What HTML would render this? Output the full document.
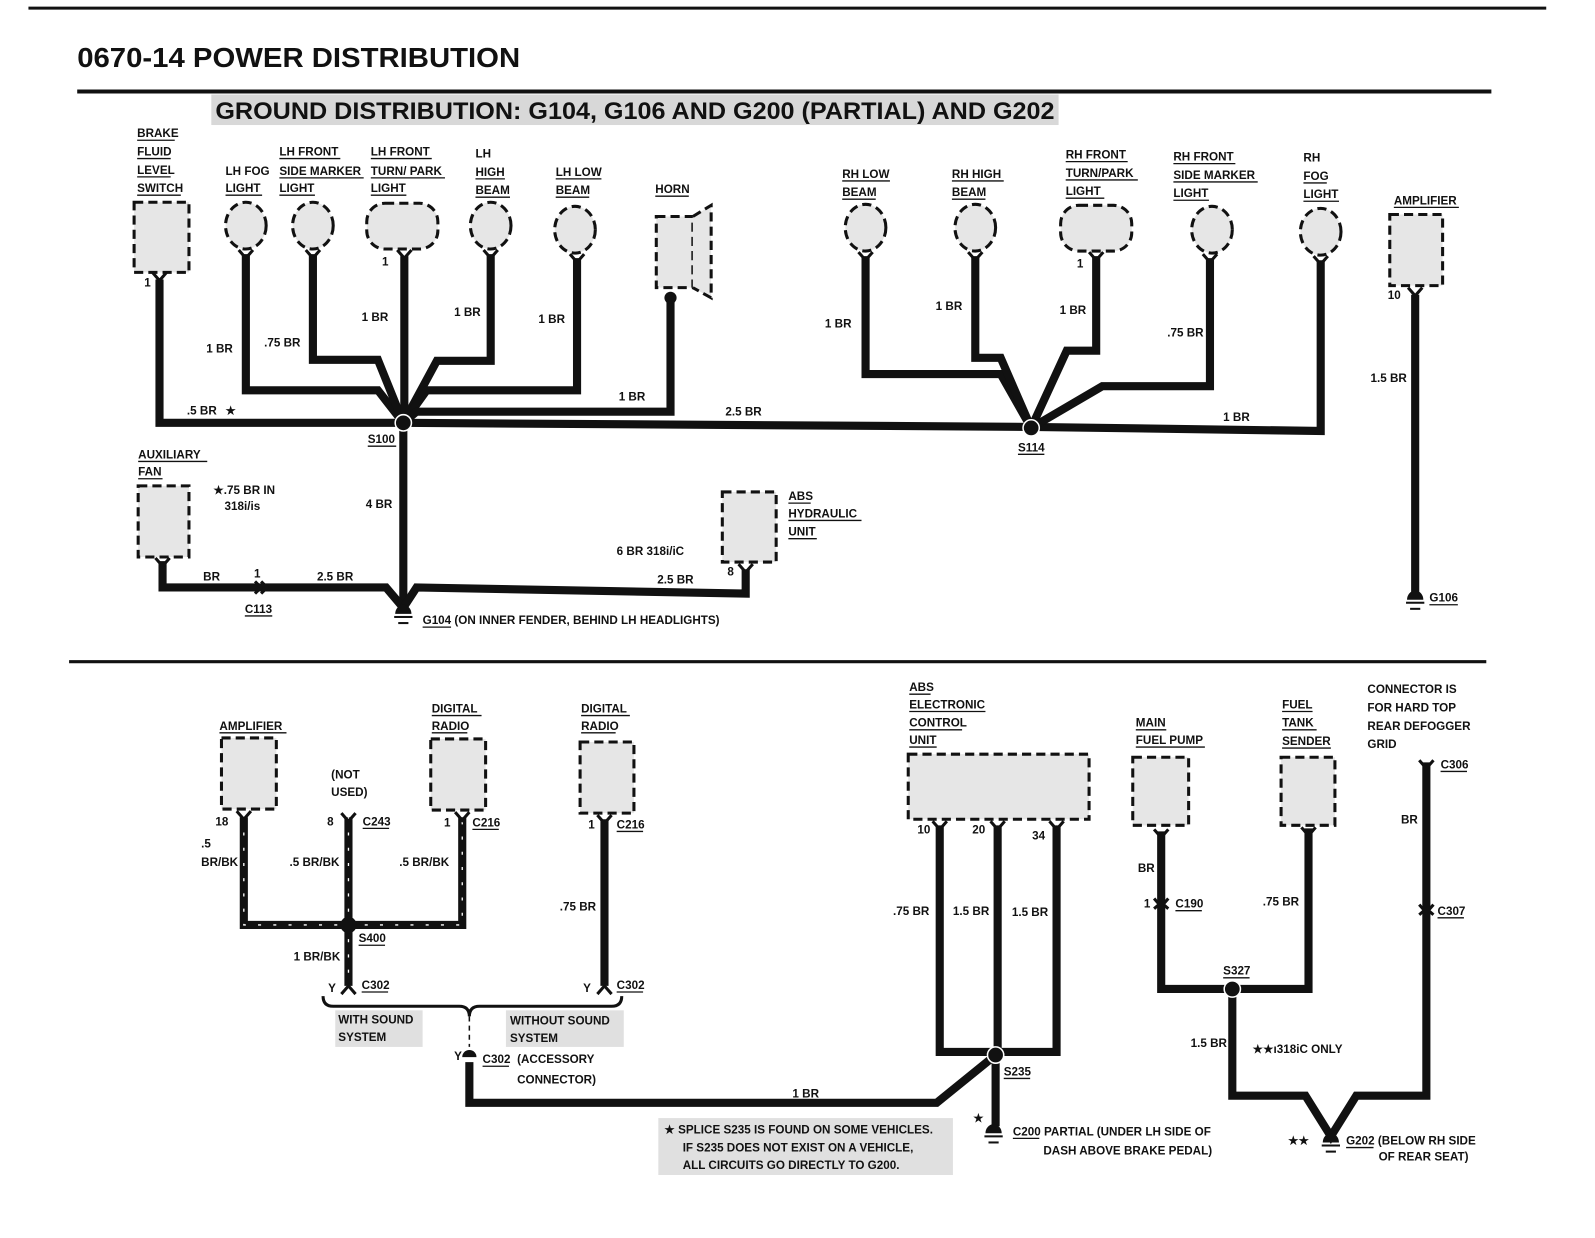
<!DOCTYPE html>
<html><head><meta charset="utf-8"><style>
html,body{margin:0;padding:0;background:#fff}
svg{display:block}
text{font-family:"Liberation Sans",sans-serif;font-weight:bold;fill:#111}
.l{font-size:11.5px}
.w{fill:none;stroke:#111;stroke-width:8;stroke-linejoin:miter}
.b{fill:#e6e6e6;stroke:#111;stroke-width:3;stroke-dasharray:9 5}
.s{fill:none;stroke:#fff;stroke-width:1.3;stroke-dasharray:3 12}
</style></head><body>
<svg width="1595" height="1238" viewBox="0 0 1570 1218" preserveAspectRatio="none" xmlns="http://www.w3.org/2000/svg">
<rect width="1570" height="1218" fill="#fff"/>
<line x1="28" y1="8" x2="1522" y2="8" stroke="#111" stroke-width="3"/>
<text x="76" y="66" style="font-size:27px" textLength="436" lengthAdjust="spacingAndGlyphs">0670-14  POWER DISTRIBUTION</text>
<line x1="76" y1="90" x2="1468" y2="90" stroke="#111" stroke-width="4"/>
<rect x="208" y="93" width="834" height="30" fill="#d8d8d8"/>
<text x="212" y="117" style="font-size:24px" textLength="826" lengthAdjust="spacingAndGlyphs">GROUND DISTRIBUTION: G104, G106 AND G200 (PARTIAL) AND G202</text>

<!-- top components -->
<rect class="b" x="132" y="199" width="54" height="69"/>
<ellipse class="b" cx="242" cy="222" rx="20" ry="23"/>
<ellipse class="b" cx="308" cy="222" rx="20" ry="23"/>
<rect class="b" x="361" y="200" width="70" height="45" rx="18"/>
<ellipse class="b" cx="483" cy="222" rx="20" ry="23"/>
<ellipse class="b" cx="566" cy="226" rx="20" ry="23"/>
<rect class="b" x="646" y="213" width="36" height="70"/>
<path d="M682 213 L700 202 L700 293 L682 283" fill="#e6e6e6" stroke="#111" stroke-width="3" stroke-dasharray="9 5"/>
<ellipse class="b" cx="852" cy="224" rx="20" ry="23"/>
<ellipse class="b" cx="960" cy="224" rx="20" ry="23"/>
<rect class="b" x="1044" y="202" width="70" height="45" rx="18"/>
<ellipse class="b" cx="1193" cy="226" rx="20" ry="23"/>
<ellipse class="b" cx="1300" cy="228" rx="20" ry="23"/>
<rect class="b" x="1368" y="211" width="52" height="70"/>

<!-- top wires -->
<g class="w">
<path d="M157 275 V416 H397"/>
<path d="M242 250 V384 H372 L397 416"/>
<path d="M308 250 V354 H372 L397 416"/>
<path d="M398 252 V416"/>
<path d="M483 250 V355 H430 L397 416"/>
<path d="M568 254 V384 H420 L397 416"/>
<path d="M660 293 V405 H410 L397 416"/>
<path d="M397 416 L1015 420 L1300 424 V256"/>
<path d="M852 252 V368 H985 L1015 421"/>
<path d="M960 252 V352 H985 L1015 421"/>
<path d="M1079 252 V345 H1050 L1015 421"/>
<path d="M1191 254 V380 H1085 L1015 421"/>
<path d="M1393 290 V585"/>
<path d="M397 416 V598"/>
<path d="M160 552 V578 H380 L397 598"/>
<path d="M734 560 V584 L410 578 L397 598"/>
</g>
<circle cx="397" cy="416" r="8" fill="#111" stroke="#fff" stroke-width="1.5"/>
<circle cx="1015" cy="421" r="8" fill="#111" stroke="#fff" stroke-width="1.5"/>
<circle cx="660" cy="293" r="6" fill="#111"/>
<path d="M251 572 l6 6 -6 6 M257 572 l6 6 -6 6" stroke="#111" stroke-width="3" fill="none"/>
<rect class="b" x="136" y="478" width="50" height="70"/>
<rect class="b" x="711" y="484" width="53" height="69"/>

<!-- connector Ys -->
<g stroke="#111" stroke-width="3" fill="none">
<path d="M150 268 l7 8 7 -8"/><path d="M235 246 l7 8 7 -8"/><path d="M301 246 l7 8 7 -8"/><path d="M391 246 l7 8 7 -8"/><path d="M476 246 l7 8 7 -8"/><path d="M561 250 l7 8 7 -8"/>
<path d="M845 248 l7 8 7 -8"/><path d="M953 248 l7 8 7 -8"/><path d="M1072 248 l7 8 7 -8"/><path d="M1184 250 l7 8 7 -8"/><path d="M1293 252 l7 8 7 -8"/><path d="M1386 283 l7 8 7 -8"/>
<path d="M153 549 l7 8 7 -8"/><path d="M727 555 l7 8 7 -8"/>
</g>

<!-- grounds top -->
<g fill="#111">
<path d="M389 604 a8 9 0 0 1 16 0 z"/><rect x="388" y="606" width="18" height="2"/><rect x="392" y="612" width="10" height="2"/>
<path d="M1385 590 a8 9 0 0 1 16 0 z"/><rect x="1384" y="592" width="18" height="2"/><rect x="1388" y="598" width="10" height="2"/>
</g>

<!-- top labels -->
<g class="l">
<text x="135" y="135">BRAKE</text><text x="135" y="153">FLUID</text><text x="135" y="171">LEVEL</text><text x="135" y="189">SWITCH</text>
<text x="222" y="172">LH FOG</text><text x="222" y="189">LIGHT</text>
<text x="275" y="153">LH FRONT</text><text x="275" y="172">SIDE MARKER</text><text x="275" y="189">LIGHT</text>
<text x="365" y="153">LH FRONT</text><text x="365" y="172">TURN/ PARK</text><text x="365" y="189">LIGHT</text>
<text x="468" y="155">LH</text><text x="468" y="173">HIGH</text><text x="468" y="191">BEAM</text>
<text x="547" y="173">LH LOW</text><text x="547" y="191">BEAM</text>
<text x="645" y="190">HORN</text>
<text x="829" y="175">RH LOW</text><text x="829" y="193">BEAM</text>
<text x="937" y="175">RH HIGH</text><text x="937" y="193">BEAM</text>
<text x="1049" y="156">RH FRONT</text><text x="1049" y="174">TURN/PARK</text><text x="1049" y="192">LIGHT</text>
<text x="1155" y="158">RH FRONT</text><text x="1155" y="176">SIDE MARKER</text><text x="1155" y="194">LIGHT</text>
<text x="1283" y="159">RH</text><text x="1283" y="177">FOG</text><text x="1283" y="195">LIGHT</text>
<text x="1372" y="201">AMPLIFIER</text>
<text x="142" y="282">1</text><text x="376" y="261">1</text><text x="1060" y="263">1</text><text x="1366" y="294">10</text>
<text x="203" y="347">1 BR</text><text x="260" y="341">.75 BR</text><text x="356" y="316">1 BR</text><text x="447" y="311">1 BR</text><text x="530" y="318">1 BR</text>
<text x="609" y="394">1 BR</text><text x="184" y="408">.5 BR</text><text x="222" y="408">★</text><text x="714" y="409">2.5 BR</text>
<text x="812" y="322">1 BR</text><text x="921" y="305">1 BR</text><text x="1043" y="309">1 BR</text><text x="1149" y="331">.75 BR</text><text x="1204" y="414">1 BR</text>
<text x="1349" y="376">1.5 BR</text>
<text x="362" y="436">S100</text><text x="1002" y="444">S114</text>
<text x="136" y="451">AUXILIARY</text><text x="136" y="468">FAN</text>
<text x="210" y="486">★.75 BR IN</text><text x="221" y="502">318i/is</text>
<text x="360" y="500">4 BR</text>
<text x="776" y="492">ABS</text><text x="776" y="509">HYDRAULIC</text><text x="776" y="527">UNIT</text>
<text x="607" y="546">6 BR 318i/iC</text><text x="647" y="574">2.5 BR</text><text x="716" y="566">8</text>
<text x="200" y="571">BR</text><text x="250" y="568">1</text><text x="312" y="571">2.5 BR</text>
<text x="241" y="603">C113</text>
<text x="416" y="614">G104 (ON INNER FENDER, BEHIND LH HEADLIGHTS)</text>
<text x="1407" y="592">G106</text>
</g>
<g stroke="#111" stroke-width="1.3">
<line x1="135" y1="138" x2="172" y2="138"/><line x1="135" y1="156" x2="168" y2="156"/><line x1="135" y1="174" x2="168" y2="174"/><line x1="135" y1="192" x2="178" y2="192"/>
<line x1="222" y1="192" x2="258" y2="192"/><line x1="275" y1="156" x2="335" y2="156"/><line x1="275" y1="175" x2="358" y2="175"/><line x1="275" y1="192" x2="310" y2="192"/>
<line x1="365" y1="156" x2="425" y2="156"/><line x1="365" y1="175" x2="438" y2="175"/><line x1="365" y1="192" x2="400" y2="192"/>
<line x1="468" y1="176" x2="497" y2="176"/><line x1="468" y1="194" x2="502" y2="194"/><line x1="547" y1="176" x2="592" y2="176"/><line x1="547" y1="194" x2="580" y2="194"/><line x1="645" y1="193" x2="678" y2="193"/>
<line x1="829" y1="178" x2="876" y2="178"/><line x1="829" y1="196" x2="862" y2="196"/><line x1="937" y1="178" x2="988" y2="178"/><line x1="937" y1="196" x2="970" y2="196"/>
<line x1="1049" y1="159" x2="1110" y2="159"/><line x1="1049" y1="177" x2="1120" y2="177"/><line x1="1049" y1="195" x2="1087" y2="195"/>
<line x1="1155" y1="161" x2="1216" y2="161"/><line x1="1155" y1="179" x2="1238" y2="179"/><line x1="1155" y1="197" x2="1190" y2="197"/>
<line x1="1283" y1="180" x2="1306" y2="180"/><line x1="1283" y1="198" x2="1318" y2="198"/><line x1="1372" y1="204" x2="1436" y2="204"/>
<line x1="362" y1="439" x2="390" y2="439"/><line x1="1002" y1="447" x2="1028" y2="447"/><line x1="136" y1="454" x2="204" y2="454"/><line x1="136" y1="471" x2="160" y2="471"/>
<line x1="776" y1="495" x2="798" y2="495"/><line x1="776" y1="512" x2="848" y2="512"/><line x1="776" y1="530" x2="804" y2="530"/>
<line x1="241" y1="606" x2="268" y2="606"/><line x1="416" y1="617" x2="444" y2="617"/><line x1="1407" y1="595" x2="1435" y2="595"/>
</g>

<!-- bottom -->
<line x1="68" y1="651" x2="1463" y2="651" stroke="#111" stroke-width="3"/>
<rect class="b" x="218" y="726" width="54" height="70"/>
<rect class="b" x="424" y="727" width="54" height="70"/>
<rect class="b" x="571" y="730" width="53" height="70"/>
<rect class="b" x="894" y="742" width="178" height="64"/>
<rect class="b" x="1115" y="745" width="55" height="67"/>
<rect class="b" x="1261" y="745" width="53" height="67"/>
<g class="w">
<path d="M240 804 V910 H455 V804"/>
<path d="M343 804 V970"/>
<path d="M595 806 V970"/>
<path d="M462 1045 V1085 H922 L980 1038"/>
<path d="M925 812 V1035 H1040 V812"/>
<path d="M982 812 V1035"/>
<path d="M980 1038 V1108"/>
<path d="M1143 818 V973 H1288 V815"/>
<path d="M1213 973 V1078 H1285 L1310 1118 L1335 1078 H1404 V750"/>
</g>
<g class="s">
<path d="M240 804 V910 H455 V804"/><path d="M343 804 V970"/>
</g>
<circle cx="343" cy="910" r="8" fill="#111"/>
<circle cx="980" cy="1038" r="8" fill="#111" stroke="#fff" stroke-width="1.5"/>
<circle cx="1213" cy="973" r="8" fill="#111" stroke="#fff" stroke-width="1.5"/>
<g stroke="#111" stroke-width="3" fill="none">
<path d="M233 798 l7 8 7 -8"/><path d="M336 800 l7 8 7 -8"/><path d="M448 799 l7 8 7 -8"/><path d="M588 802 l7 8 7 -8"/>
<path d="M336 978 l7 -8 7 8"/><path d="M588 978 l7 -8 7 8"/>
<path d="M918 808 l7 8 7 -8"/><path d="M975 808 l7 8 7 -8"/><path d="M1033 808 l7 8 7 -8"/>
<path d="M1136 816 l7 8 7 -8"/><path d="M1281 814 l7 8 7 -8"/><path d="M1397 748 l7 8 7 -8"/>
<path d="M1136 884 l7 8 7 -8 M1136 894 l7 -6 7 6"/><path d="M1397 890 l7 8 7 -8 M1397 900 l7 -6 7 6"/>
<path d="M318 980 q0 10 10 10 H452 q10 0 10 10 q0 -10 10 -10 H602 q10 0 10 -10"/>
</g>
<line x1="462" y1="1000" x2="462" y2="1030" stroke="#111" stroke-width="1.5" stroke-dasharray="5 4"/>
<path d="M455 1040 a7 7 0 0 1 14 0 z" fill="#111"/>
<rect x="330" y="994" width="86" height="36" fill="#e0e0e0"/>
<rect x="498" y="994" width="116" height="36" fill="#e0e0e0"/>
<rect x="648" y="1100" width="290" height="56" fill="#e0e0e0"/>
<g fill="#111">
<path d="M970 1115 a8 9 0 0 1 16 0 z"/><rect x="969" y="1117" width="18" height="2"/><rect x="973" y="1123" width="10" height="2"/>
<path d="M1302 1124 a8 9 0 0 1 16 0 z"/><rect x="1301" y="1126" width="18" height="2"/><rect x="1305" y="1132" width="10" height="2"/>
</g>
<g class="l">
<text x="216" y="718">AMPLIFIER</text>
<text x="326" y="766">(NOT</text><text x="326" y="783">USED)</text>
<text x="425" y="701">DIGITAL</text><text x="425" y="718">RADIO</text>
<text x="572" y="701">DIGITAL</text><text x="572" y="718">RADIO</text>
<text x="212" y="812">18</text><text x="322" y="812">8</text><text x="357" y="812">C243</text>
<text x="437" y="813">1</text><text x="465" y="813">C216</text><text x="579" y="815">1</text><text x="607" y="815">C216</text>
<text x="198" y="834">.5</text><text x="198" y="852">BR/BK</text><text x="285" y="852">.5 BR/BK</text><text x="393" y="852">.5 BR/BK</text>
<text x="551" y="896">.75 BR</text>
<text x="353" y="927">S400</text><text x="289" y="945">1 BR/BK</text>
<text x="323" y="976">Y</text><text x="356" y="973">C302</text><text x="574" y="976">Y</text><text x="607" y="973">C302</text>
<text x="333" y="1007">WITH SOUND</text><text x="333" y="1024">SYSTEM</text>
<text x="502" y="1008">WITHOUT SOUND</text><text x="502" y="1025">SYSTEM</text>
<text x="447" y="1043">Y</text><text x="475" y="1046">C302</text><text x="509" y="1046">(ACCESSORY</text><text x="509" y="1066">CONNECTOR)</text>
<text x="780" y="1080">1 BR</text>
<text x="895" y="680">ABS</text><text x="895" y="697">ELECTRONIC</text><text x="895" y="715">CONTROL</text><text x="895" y="732">UNIT</text>
<text x="903" y="820">10</text><text x="957" y="820">20</text><text x="1016" y="826">34</text>
<text x="879" y="900">.75 BR</text><text x="938" y="900">1.5 BR</text><text x="996" y="901">1.5 BR</text>
<text x="988" y="1058">S235</text>
<text x="958" y="1104">★</text>
<text x="997" y="1117">C200 PARTIAL (UNDER LH SIDE OF</text><text x="1027" y="1136">DASH ABOVE BRAKE PEDAL)</text>
<text x="654" y="1115">★  SPLICE S235 IS FOUND ON SOME VEHICLES.</text>
<text x="672" y="1133">IF S235 DOES NOT EXIST ON A VEHICLE,</text>
<text x="672" y="1150">ALL CIRCUITS GO DIRECTLY TO G200.</text>
<text x="1118" y="715">MAIN</text><text x="1118" y="732">FUEL PUMP</text>
<text x="1262" y="697">FUEL</text><text x="1262" y="715">TANK</text><text x="1262" y="733">SENDER</text>
<text x="1346" y="682">CONNECTOR IS</text><text x="1346" y="700">FOR HARD TOP</text><text x="1346" y="718">REAR DEFOGGER</text><text x="1346" y="736">GRID</text>
<text x="1418" y="756">C306</text><text x="1379" y="810">BR</text>
<text x="1120" y="858">BR</text><text x="1126" y="893">1</text><text x="1157" y="893">C190</text>
<text x="1243" y="891">.75 BR</text><text x="1415" y="900">C307</text>
<text x="1204" y="959">S327</text><text x="1172" y="1030">1.5 BR</text><text x="1233" y="1036">★★ı318iC ONLY</text>
<text x="1268" y="1126">★★</text><text x="1325" y="1126">G202 (BELOW RH SIDE</text><text x="1357" y="1142">OF REAR SEAT)</text>
</g>
<g stroke="#111" stroke-width="1.3">
<line x1="216" y1="721" x2="282" y2="721"/><line x1="425" y1="704" x2="474" y2="704"/><line x1="425" y1="721" x2="460" y2="721"/>
<line x1="572" y1="704" x2="620" y2="704"/><line x1="572" y1="721" x2="606" y2="721"/>
<line x1="357" y1="815" x2="383" y2="815"/><line x1="465" y1="816" x2="491" y2="816"/><line x1="607" y1="818" x2="633" y2="818"/>
<line x1="353" y1="930" x2="379" y2="930"/><line x1="356" y1="976" x2="382" y2="976"/><line x1="607" y1="976" x2="633" y2="976"/><line x1="475" y1="1049" x2="501" y2="1049"/>
<line x1="895" y1="683" x2="916" y2="683"/><line x1="895" y1="700" x2="970" y2="700"/><line x1="895" y1="718" x2="947" y2="718"/><line x1="895" y1="735" x2="922" y2="735"/>
<line x1="988" y1="1061" x2="1014" y2="1061"/><line x1="997" y1="1120" x2="1023" y2="1120"/>
<line x1="1118" y1="718" x2="1148" y2="718"/><line x1="1118" y1="735" x2="1186" y2="735"/>
<line x1="1262" y1="700" x2="1292" y2="700"/><line x1="1262" y1="718" x2="1296" y2="718"/><line x1="1262" y1="736" x2="1310" y2="736"/>
<line x1="1418" y1="759" x2="1444" y2="759"/><line x1="1157" y1="896" x2="1183" y2="896"/><line x1="1415" y1="903" x2="1441" y2="903"/>
<line x1="1204" y1="962" x2="1230" y2="962"/><line x1="1325" y1="1129" x2="1352" y2="1129"/>
</g>
</svg>
</body></html>
